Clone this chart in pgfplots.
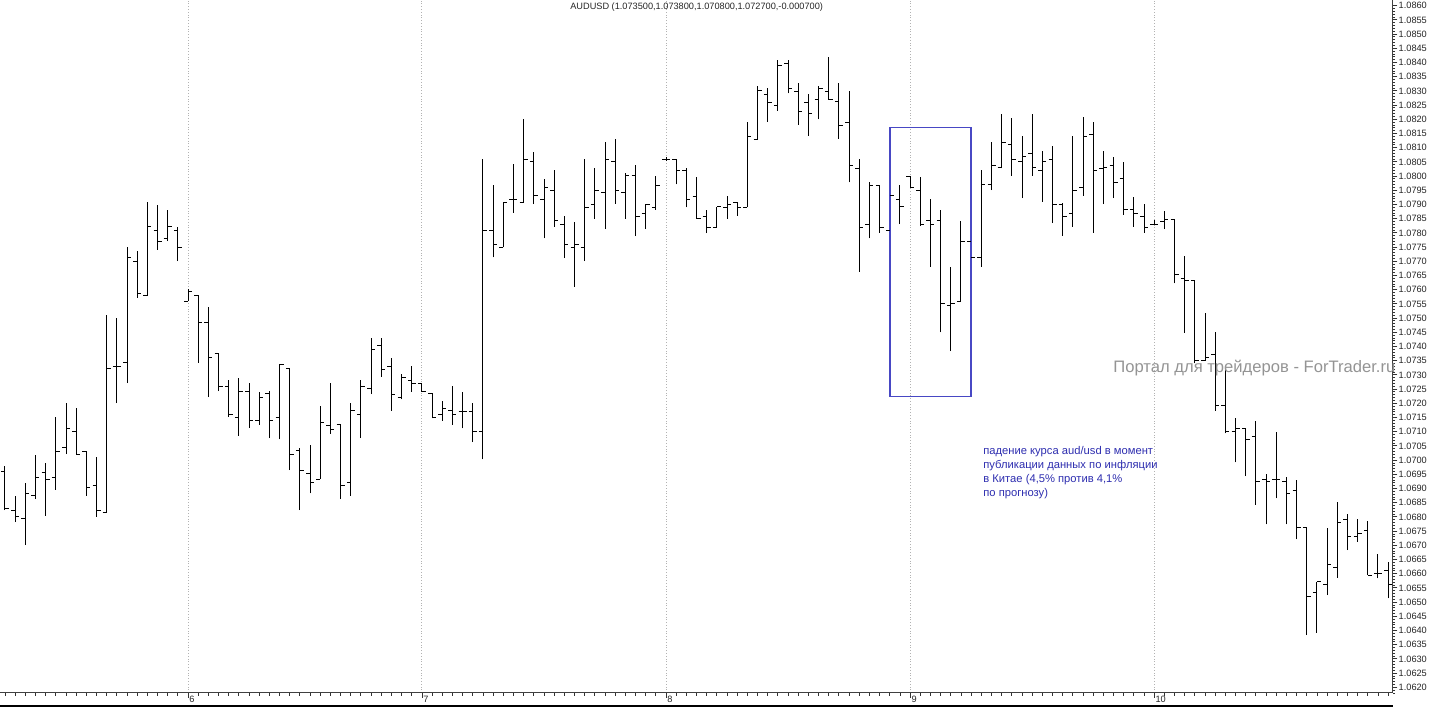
\documentclass[border=0pt]{standalone}
\usepackage{fontspec}
\setmainfont{Liberation Sans}
\usepackage{pgfplots}
\pgfplotsset{compat=1.18}
\usepackage{pgfplotstable}
\definecolor{boxblue}{RGB}{72,72,196}
\definecolor{annblue}{RGB}{45,45,175}
\pgfdeclareplotmark{openL}{\pgfpathmoveto{\pgfqpoint{-\pgfplotmarksize}{0pt}}\pgfpathlineto{\pgfqpoint{0pt}{0pt}}\pgfusepathqstroke}
\pgfdeclareplotmark{closeR}{\pgfpathmoveto{\pgfqpoint{0pt}{0pt}}\pgfpathlineto{\pgfqpoint{\pgfplotmarksize}{0pt}}\pgfusepathqstroke}
\pgfdeclareplotmark{nomark}{}

\pgfplotstableread{
i o h l c
0 1.06959 1.06979 1.06824 1.06831
1 1.06824 1.06874 1.06782 1.06803
2 1.06793 1.06920 1.06701 1.06881
3 1.06874 1.07018 1.06863 1.06940
4 1.06955 1.06991 1.06804 1.06933
5 1.06940 1.07152 1.06895 1.07032
6 1.07043 1.07201 1.07021 1.07113
7 1.07102 1.07183 1.07018 1.07018
8 1.07032 1.07032 1.06874 1.06902
9 1.06912 1.07011 1.06800 1.06821
10 1.06814 1.07511 1.06814 1.07321
11 1.07328 1.07500 1.07201 1.07331
12 1.07342 1.07750 1.07271 1.07712
13 1.07701 1.07736 1.07571 1.07588
14 1.07581 1.07909 1.07578 1.07821
15 1.07810 1.07898 1.07740 1.07768
16 1.07782 1.07881 1.07771 1.07821
17 1.07810 1.07821 1.07701 1.07750
18 1.07560 1.07602 1.07560 1.07592
19 1.07581 1.07581 1.07342 1.07486
20 1.07486 1.07539 1.07222 1.07360
21 1.07376 1.07378 1.07243 1.07258
22 1.07258 1.07282 1.07153 1.07159
23 1.07151 1.07290 1.07085 1.07243
24 1.07243 1.07270 1.07114 1.07141
25 1.07141 1.07239 1.07124 1.07221
26 1.07235 1.07243 1.07077 1.07141
27 1.07151 1.07337 1.07073 1.07335
28 1.07321 1.07321 1.06965 1.07021
29 1.07033 1.07042 1.06824 1.06962
30 1.06954 1.07053 1.06883 1.06922
31 1.06933 1.07190 1.06933 1.07133
32 1.07121 1.07270 1.07092 1.07109
33 1.07124 1.07127 1.06863 1.06912
34 1.06922 1.07200 1.06874 1.07173
35 1.07161 1.07282 1.07077 1.07258
36 1.07253 1.07429 1.07232 1.07390
37 1.07402 1.07429 1.07294 1.07320
38 1.07331 1.07361 1.07174 1.07232
39 1.07220 1.07302 1.07214 1.07292
40 1.07280 1.07331 1.07241 1.07270
41 1.07268 1.07271 1.07240 1.07243
42 1.07233 1.07235 1.07147 1.07151
43 1.07162 1.07209 1.07139 1.07182
44 1.07173 1.07261 1.07124 1.07161
45 1.07170 1.07239 1.07112 1.07170
46 1.07170 1.07200 1.07063 1.07100
47 1.07100 1.08059 1.07003 1.07810
48 1.07810 1.07969 1.07714 1.07760
49 1.07749 1.07910 1.07749 1.07908
50 1.07918 1.08041 1.07871 1.07918
51 1.07908 1.08201 1.07908 1.08059
52 1.08051 1.08086 1.07901 1.07930
53 1.07918 1.07990 1.07781 1.07961
54 1.07951 1.08021 1.07822 1.07842
55 1.07831 1.07859 1.07711 1.07760
56 1.07750 1.07839 1.07611 1.07760
57 1.07750 1.08059 1.07701 1.07890
58 1.07901 1.08027 1.07849 1.07951
59 1.07942 1.08119 1.07813 1.08059
60 1.08051 1.08130 1.07902 1.07951
61 1.07942 1.08010 1.07849 1.08001
62 1.08001 1.08039 1.07789 1.07857
63 1.07869 1.07901 1.07813 1.07901
64 1.07890 1.08000 1.07881 1.07966
65 1.08059 1.08067 1.08053 1.08059
66 1.08059 1.08059 1.07971 1.08021
67 1.08021 1.08027 1.07890 1.07918
68 1.07927 1.07998 1.07849 1.07849
69 1.07857 1.07881 1.07799 1.07818
70 1.07818 1.07892 1.07818 1.07892
71 1.07890 1.07930 1.07849 1.07901
72 1.07908 1.07910 1.07861 1.07890
73 1.07890 1.08189 1.07890 1.08141
74 1.08130 1.08318 1.08130 1.08301
75 1.08289 1.08311 1.08192 1.08260
76 1.08248 1.08409 1.08230 1.08388
77 1.08395 1.08409 1.08291 1.08309
78 1.08297 1.08327 1.08180 1.08229
79 1.08260 1.08288 1.08142 1.08219
80 1.08271 1.08317 1.08200 1.08307
81 1.08297 1.08420 1.08268 1.08271
82 1.08262 1.08327 1.08131 1.08177
83 1.08189 1.08300 1.07978 1.08039
84 1.08027 1.08059 1.07663 1.07818
85 1.07830 1.07980 1.07781 1.07966
86 1.07966 1.07969 1.07801 1.07818
87 1.07810 1.07976 1.07800 1.07930
88 1.07918 1.07969 1.07831 1.07892
89 1.08000 1.08000 1.07961 1.07961
90 1.07951 1.07998 1.07824 1.07830
91 1.07843 1.07919 1.07681 1.07830
92 1.07843 1.07881 1.07450 1.07550
93 1.07543 1.07679 1.07384 1.07550
94 1.07558 1.07842 1.07558 1.07769
95 1.07769 1.07775 1.07697 1.07713
96 1.07712 1.08021 1.07681 1.07969
97 1.07969 1.08119 1.07951 1.08039
98 1.08030 1.08218 1.08027 1.08119
99 1.08112 1.08206 1.08001 1.08060
100 1.08051 1.08141 1.07922 1.08068
101 1.08080 1.08218 1.08001 1.08030
102 1.08021 1.08089 1.07910 1.08051
103 1.08060 1.08107 1.07834 1.07901
104 1.07901 1.07904 1.07790 1.07857
105 1.07869 1.08141 1.07822 1.07951
106 1.07961 1.08209 1.07931 1.08141
107 1.08147 1.08189 1.07801 1.08019
108 1.08027 1.08089 1.07901 1.08030
109 1.08039 1.08068 1.07922 1.07978
110 1.07990 1.08049 1.07863 1.07881
111 1.07881 1.07927 1.07822 1.07869
112 1.07859 1.07901 1.07801 1.07818
113 1.07830 1.07845 1.07828 1.07830
114 1.07839 1.07877 1.07813 1.07848
115 1.07848 1.07848 1.07622 1.07652
116 1.07640 1.07719 1.07449 1.07631
117 1.07631 1.07631 1.07341 1.07352
118 1.07352 1.07519 1.07350 1.07362
119 1.07373 1.07450 1.07174 1.07194
120 1.07194 1.07329 1.07094 1.07100
121 1.07100 1.07149 1.06992 1.07112
122 1.07112 1.07112 1.06944 1.07073
123 1.07082 1.07138 1.06842 1.06924
124 1.06932 1.06951 1.06774 1.06924
125 1.06932 1.07100 1.06865 1.06932
126 1.06924 1.06939 1.06774 1.06881
127 1.06892 1.06930 1.06721 1.06763
128 1.06763 1.06763 1.06384 1.06521
129 1.06533 1.06572 1.06392 1.06572
130 1.06563 1.06762 1.06525 1.06631
131 1.06621 1.06851 1.06586 1.06780
132 1.06792 1.06809 1.06683 1.06730
133 1.06730 1.06792 1.06713 1.06742
134 1.06751 1.06787 1.06595 1.06595
135 1.06601 1.06669 1.06584 1.06601
136 1.06610 1.06642 1.06513 1.06563
}\ohlc

\begin{document}
\begin{tikzpicture}[x=1pt,y=1pt]
\useasboundingbox (0,0) rectangle (714.5,-358);
\begin{axis}[
  at={(0,0)}, anchor=north west,
  scale only axis, width=696.25pt, height=346.5pt,
  xmin=-0.49, xmax=136.43, ymin=1.06180, ymax=1.08620,
  clip=false,
  axis x line*=bottom, axis y line*=right,
  axis line style={black!75, line width=0.5pt},
  tick align=outside,
  major tick length=2.4pt, minor tick length=1.3pt,
  tick style={black!80, line width=0.45pt},
  xtick={18,41,65,89,113}, xticklabels={6,7,8,9,10},
  minor xtick={0,1,...,136},
  xmajorgrids, major grid style={densely dotted, black!30, line width=0.5pt},
  ytick distance=0.0005, minor y tick num=4,
  scaled y ticks=false,
  yticklabel style={/pgf/number format/.cd, fixed, fixed zerofill, precision=4, assume math mode=true, /tikz/.cd,
     font=\fontsize{4.6}{5}\selectfont, anchor=west, inner sep=0.5pt, text=black!85},
  xticklabel style={font=\fontsize{4.6}{5}\selectfont, anchor=west, inner sep=0.5pt, yshift=-1pt, text=black!85},
]
\addplot[black, line width=0.5pt, only marks, mark=nomark,
  error bars/.cd, y dir=plus, y explicit, error mark=none,
  error bar style={black, line width=0.5pt}]
  table[x=i, y=l, y error expr=\thisrow{h}-\thisrow{l}] {\ohlc};
\addplot[black, line width=0.5pt, only marks, mark=openL, mark size=2pt] table[x=i, y=o] {\ohlc};
\addplot[black, line width=0.5pt, only marks, mark=closeR, mark size=2pt] table[x=i, y=c] {\ohlc};
\draw[boxblue, line width=0.6pt] (axis cs:87.02,1.08172) rectangle (axis cs:94.99,1.07223);
\node[font=\fontsize{4.6}{5.5}\selectfont, text=black!85] at (rel axis cs:0.5003,0.9892) {AUDUSD (1.073500,1.073800,1.070800,1.072700,-0.000700)};
\node[anchor=north west, align=left, inner sep=0pt, font=\fontsize{5.6}{7}\selectfont, text=annblue] at (rel axis cs:0.7059,0.3564)
  {падение курса aud/usd в момент\\публикации данных по инфляции\\в Китае (4,5\% против 4,1\%\\по прогнозу)};
\node[anchor=west, inner sep=0pt, font=\fontsize{8.3}{10}\selectfont, text=black!42] at (rel axis cs:0.7993,0.4690)
  {Портал для трейдеров - ForTrader.ru};
\end{axis}
\draw[black, line width=0.6pt] (0,-353) -- (696.25,-353);
\end{tikzpicture}
\end{document}
